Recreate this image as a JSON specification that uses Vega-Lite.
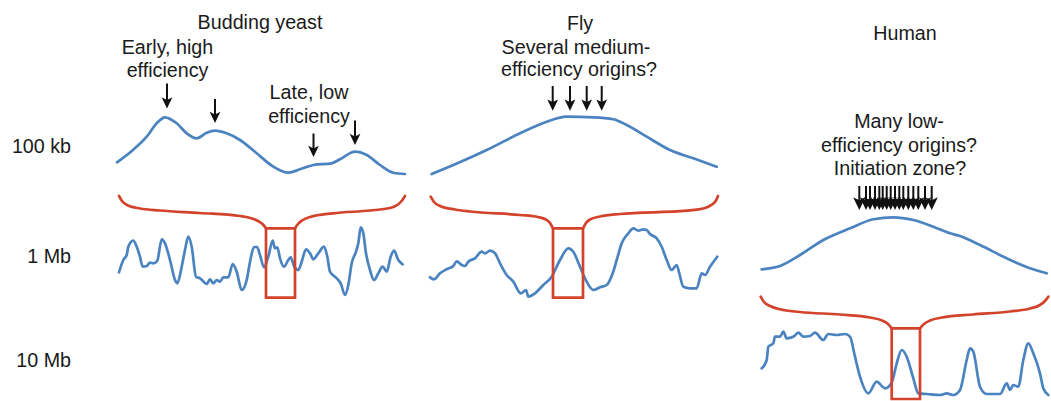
{
  "$schema": "https://vega.github.io/schema/vega-lite/v6.json",
  "width": 1051,
  "height": 401,
  "autosize": {"type": "fit", "contains": "padding"},
  "padding": 0,
  "background": "white",
  "config": {"view": {"stroke": null}, "font": "Liberation Sans"},
  "datasets": {
    "lines": [
      {"s":"Y100","kind":"profile","x":117,"y":162.3},{"s":"Y100","kind":"profile","x":133,"y":150},{"s":"Y100","kind":"profile","x":146.7,"y":136.7},{"s":"Y100","kind":"profile","x":156.7,"y":123.3},{"s":"Y100","kind":"profile","x":165,"y":117.3},{"s":"Y100","kind":"profile","x":176.7,"y":123.3},{"s":"Y100","kind":"profile","x":186.7,"y":133.3},{"s":"Y100","kind":"profile","x":196.7,"y":138.3},{"s":"Y100","kind":"profile","x":206.7,"y":132.7},{"s":"Y100","kind":"profile","x":215,"y":130.7},{"s":"Y100","kind":"profile","x":226.7,"y":133.3},{"s":"Y100","kind":"profile","x":240,"y":140},{"s":"Y100","kind":"profile","x":256.7,"y":153.3},{"s":"Y100","kind":"profile","x":273.3,"y":166.7},{"s":"Y100","kind":"profile","x":288.3,"y":172.7},{"s":"Y100","kind":"profile","x":300,"y":169.3},{"s":"Y100","kind":"profile","x":313.3,"y":165},{"s":"Y100","kind":"profile","x":331.7,"y":163.3},{"s":"Y100","kind":"profile","x":340,"y":159.3},{"s":"Y100","kind":"profile","x":355,"y":151.7},{"s":"Y100","kind":"profile","x":366.7,"y":155},{"s":"Y100","kind":"profile","x":380,"y":165},{"s":"Y100","kind":"profile","x":393.3,"y":172.7},{"s":"Y100","kind":"profile","x":405,"y":174},

      {"s":"Y1M","kind":"profile","x":119,"y":272.3},{"s":"Y1M","kind":"profile","x":123.3,"y":260},{"s":"Y1M","kind":"profile","x":126.7,"y":255},{"s":"Y1M","kind":"profile","x":128.3,"y":246.7},{"s":"Y1M","kind":"profile","x":133.3,"y":240.7},{"s":"Y1M","kind":"profile","x":136.7,"y":246.7},{"s":"Y1M","kind":"profile","x":140,"y":256.7},{"s":"Y1M","kind":"profile","x":142.7,"y":266.7},{"s":"Y1M","kind":"profile","x":146.7,"y":266},{"s":"Y1M","kind":"profile","x":150,"y":262.7},{"s":"Y1M","kind":"profile","x":153.3,"y":263.3},{"s":"Y1M","kind":"profile","x":157.3,"y":260.7},{"s":"Y1M","kind":"profile","x":161.7,"y":239.3},{"s":"Y1M","kind":"profile","x":165,"y":243.3},{"s":"Y1M","kind":"profile","x":170,"y":260},{"s":"Y1M","kind":"profile","x":175,"y":280},{"s":"Y1M","kind":"profile","x":177.3,"y":283.3},{"s":"Y1M","kind":"profile","x":181.7,"y":266.7},{"s":"Y1M","kind":"profile","x":185,"y":250},{"s":"Y1M","kind":"profile","x":188.3,"y":236.7},{"s":"Y1M","kind":"profile","x":191.7,"y":246.7},{"s":"Y1M","kind":"profile","x":196,"y":276.7},{"s":"Y1M","kind":"profile","x":200,"y":278.3},{"s":"Y1M","kind":"profile","x":206.7,"y":284},{"s":"Y1M","kind":"profile","x":210,"y":279.3},{"s":"Y1M","kind":"profile","x":213.3,"y":283.3},{"s":"Y1M","kind":"profile","x":216.7,"y":280},{"s":"Y1M","kind":"profile","x":220,"y":281.7},{"s":"Y1M","kind":"profile","x":223.3,"y":277.3},{"s":"Y1M","kind":"profile","x":228.3,"y":277.3},{"s":"Y1M","kind":"profile","x":232.7,"y":264},{"s":"Y1M","kind":"profile","x":236.7,"y":271.7},{"s":"Y1M","kind":"profile","x":241.7,"y":290},{"s":"Y1M","kind":"profile","x":246.7,"y":280},{"s":"Y1M","kind":"profile","x":250,"y":262},{"s":"Y1M","kind":"profile","x":254,"y":247},{"s":"Y1M","kind":"profile","x":257,"y":247},{"s":"Y1M","kind":"profile","x":260,"y":255},{"s":"Y1M","kind":"profile","x":264,"y":267.3},{"s":"Y1M","kind":"profile","x":268.3,"y":256.7},{"s":"Y1M","kind":"profile","x":272.7,"y":240.7},{"s":"Y1M","kind":"profile","x":275,"y":248.3},{"s":"Y1M","kind":"profile","x":277.3,"y":247.3},{"s":"Y1M","kind":"profile","x":280,"y":258.3},{"s":"Y1M","kind":"profile","x":284,"y":266.7},{"s":"Y1M","kind":"profile","x":288.3,"y":260},{"s":"Y1M","kind":"profile","x":290.7,"y":257.3},{"s":"Y1M","kind":"profile","x":294,"y":266},{"s":"Y1M","kind":"profile","x":298.3,"y":270},{"s":"Y1M","kind":"profile","x":301.7,"y":261.7},{"s":"Y1M","kind":"profile","x":306,"y":249.3},{"s":"Y1M","kind":"profile","x":310,"y":253.3},{"s":"Y1M","kind":"profile","x":313.3,"y":259.3},{"s":"Y1M","kind":"profile","x":318.3,"y":253.3},{"s":"Y1M","kind":"profile","x":324,"y":246.7},{"s":"Y1M","kind":"profile","x":327.3,"y":256.7},{"s":"Y1M","kind":"profile","x":330,"y":271.7},{"s":"Y1M","kind":"profile","x":336.7,"y":278.3},{"s":"Y1M","kind":"profile","x":340.7,"y":283.3},{"s":"Y1M","kind":"profile","x":345,"y":295},{"s":"Y1M","kind":"profile","x":348.3,"y":285},{"s":"Y1M","kind":"profile","x":351.7,"y":263.3},{"s":"Y1M","kind":"profile","x":356,"y":251.7},{"s":"Y1M","kind":"profile","x":358.3,"y":243.3},{"s":"Y1M","kind":"profile","x":360.7,"y":227.3},{"s":"Y1M","kind":"profile","x":363.3,"y":233.3},{"s":"Y1M","kind":"profile","x":366,"y":253.3},{"s":"Y1M","kind":"profile","x":370,"y":270},{"s":"Y1M","kind":"profile","x":374,"y":280},{"s":"Y1M","kind":"profile","x":378.3,"y":273.3},{"s":"Y1M","kind":"profile","x":382.7,"y":266.7},{"s":"Y1M","kind":"profile","x":386.7,"y":271.7},{"s":"Y1M","kind":"profile","x":390.7,"y":256.7},{"s":"Y1M","kind":"profile","x":394,"y":250.7},{"s":"Y1M","kind":"profile","x":398.3,"y":260},{"s":"Y1M","kind":"profile","x":402.7,"y":264.3},

      {"s":"YBL","kind":"brace","x":119,"y":196},{"s":"YBL","kind":"brace","x":122,"y":201},{"s":"YBL","kind":"brace","x":128,"y":205.5},{"s":"YBL","kind":"brace","x":140,"y":208.5},{"s":"YBL","kind":"brace","x":160,"y":210.5},{"s":"YBL","kind":"brace","x":200,"y":213},{"s":"YBL","kind":"brace","x":240,"y":216},{"s":"YBL","kind":"brace","x":252,"y":218.5},{"s":"YBL","kind":"brace","x":259,"y":221.5},{"s":"YBL","kind":"brace","x":263,"y":224.5},{"s":"YBL","kind":"brace","x":266,"y":228.3},
      {"s":"YBR","kind":"brace","x":295,"y":228.3},{"s":"YBR","kind":"brace","x":298,"y":224},{"s":"YBR","kind":"brace","x":302,"y":220.5},{"s":"YBR","kind":"brace","x":310,"y":217},{"s":"YBR","kind":"brace","x":333,"y":213.3},{"s":"YBR","kind":"brace","x":370,"y":210.5},{"s":"YBR","kind":"brace","x":390,"y":208},{"s":"YBR","kind":"brace","x":398,"y":204.5},{"s":"YBR","kind":"brace","x":402,"y":200.5},{"s":"YBR","kind":"brace","x":405,"y":196},

      {"s":"F100","kind":"profile","x":431.7,"y":174},{"s":"F100","kind":"profile","x":453.3,"y":165},{"s":"F100","kind":"profile","x":486.7,"y":150},{"s":"F100","kind":"profile","x":520,"y":133.3},{"s":"F100","kind":"profile","x":546.7,"y":121.7},{"s":"F100","kind":"profile","x":566.7,"y":116.7},{"s":"F100","kind":"profile","x":593.3,"y":117.3},{"s":"F100","kind":"profile","x":613.3,"y":119.3},{"s":"F100","kind":"profile","x":626.7,"y":125},{"s":"F100","kind":"profile","x":646.7,"y":136.7},{"s":"F100","kind":"profile","x":670,"y":150},{"s":"F100","kind":"profile","x":693.3,"y":158.3},{"s":"F100","kind":"profile","x":716.7,"y":166.7},

      {"s":"FBL","kind":"brace","x":430.7,"y":196.7},{"s":"FBL","kind":"brace","x":434,"y":202},{"s":"FBL","kind":"brace","x":440,"y":206},{"s":"FBL","kind":"brace","x":455,"y":209.5},{"s":"FBL","kind":"brace","x":470,"y":211.5},{"s":"FBL","kind":"brace","x":520,"y":215},{"s":"FBL","kind":"brace","x":538,"y":217},{"s":"FBL","kind":"brace","x":546,"y":219.5},{"s":"FBL","kind":"brace","x":550,"y":223},{"s":"FBL","kind":"brace","x":553,"y":228.3},
      {"s":"FBR","kind":"brace","x":583,"y":228.3},{"s":"FBR","kind":"brace","x":586,"y":223},{"s":"FBR","kind":"brace","x":590,"y":219.5},{"s":"FBR","kind":"brace","x":600,"y":216.5},{"s":"FBR","kind":"brace","x":620,"y":214},{"s":"FBR","kind":"brace","x":686.7,"y":210.7},{"s":"FBR","kind":"brace","x":705,"y":208},{"s":"FBR","kind":"brace","x":712,"y":204.5},{"s":"FBR","kind":"brace","x":716,"y":200.5},{"s":"FBR","kind":"brace","x":718,"y":196},

      {"s":"F1M","kind":"profile","x":430,"y":277.3},{"s":"F1M","kind":"profile","x":434,"y":279.3},{"s":"F1M","kind":"profile","x":440,"y":273.3},{"s":"F1M","kind":"profile","x":446.7,"y":269.3},{"s":"F1M","kind":"profile","x":453.3,"y":266},{"s":"F1M","kind":"profile","x":456.7,"y":261.3},{"s":"F1M","kind":"profile","x":461.7,"y":265},{"s":"F1M","kind":"profile","x":465,"y":266},{"s":"F1M","kind":"profile","x":468.3,"y":261.7},{"s":"F1M","kind":"profile","x":475,"y":258.3},{"s":"F1M","kind":"profile","x":481.7,"y":251.7},{"s":"F1M","kind":"profile","x":485,"y":253.3},{"s":"F1M","kind":"profile","x":490,"y":250.7},{"s":"F1M","kind":"profile","x":495,"y":253.3},{"s":"F1M","kind":"profile","x":500,"y":263.3},{"s":"F1M","kind":"profile","x":506.7,"y":275},{"s":"F1M","kind":"profile","x":513.3,"y":281.7},{"s":"F1M","kind":"profile","x":520.7,"y":293.3},{"s":"F1M","kind":"profile","x":526,"y":290},{"s":"F1M","kind":"profile","x":528.3,"y":296.7},{"s":"F1M","kind":"profile","x":535,"y":293.3},{"s":"F1M","kind":"profile","x":543.3,"y":285},{"s":"F1M","kind":"profile","x":551.7,"y":276.7},{"s":"F1M","kind":"profile","x":560,"y":260},{"s":"F1M","kind":"profile","x":568.3,"y":248.3},{"s":"F1M","kind":"profile","x":573.3,"y":251.7},{"s":"F1M","kind":"profile","x":580,"y":266.7},{"s":"F1M","kind":"profile","x":586.7,"y":281.7},{"s":"F1M","kind":"profile","x":593.3,"y":290},{"s":"F1M","kind":"profile","x":600,"y":287.3},{"s":"F1M","kind":"profile","x":606.7,"y":285},{"s":"F1M","kind":"profile","x":612.7,"y":273.3},{"s":"F1M","kind":"profile","x":616.7,"y":260},{"s":"F1M","kind":"profile","x":621.7,"y":243.3},{"s":"F1M","kind":"profile","x":628.3,"y":233.3},{"s":"F1M","kind":"profile","x":633.3,"y":228.3},{"s":"F1M","kind":"profile","x":638.3,"y":230.7},{"s":"F1M","kind":"profile","x":643.3,"y":229.3},{"s":"F1M","kind":"profile","x":646.7,"y":230},{"s":"F1M","kind":"profile","x":650,"y":234},{"s":"F1M","kind":"profile","x":656.7,"y":238.3},{"s":"F1M","kind":"profile","x":661.7,"y":246.7},{"s":"F1M","kind":"profile","x":666.7,"y":260},{"s":"F1M","kind":"profile","x":671.7,"y":270},{"s":"F1M","kind":"profile","x":676.7,"y":265},{"s":"F1M","kind":"profile","x":679.3,"y":273.3},{"s":"F1M","kind":"profile","x":683.3,"y":286.7},{"s":"F1M","kind":"profile","x":690,"y":288.3},{"s":"F1M","kind":"profile","x":696.7,"y":288.3},{"s":"F1M","kind":"profile","x":701.7,"y":273.3},{"s":"F1M","kind":"profile","x":705,"y":275},{"s":"F1M","kind":"profile","x":710,"y":266.7},{"s":"F1M","kind":"profile","x":717.3,"y":256.7},

      {"s":"H100","kind":"profile","x":761.7,"y":269.3},{"s":"H100","kind":"profile","x":780,"y":266},{"s":"H100","kind":"profile","x":800,"y":255},{"s":"H100","kind":"profile","x":823.3,"y":240},{"s":"H100","kind":"profile","x":850,"y":228.3},{"s":"H100","kind":"profile","x":873.3,"y":219.3},{"s":"H100","kind":"profile","x":893.3,"y":217.3},{"s":"H100","kind":"profile","x":913.3,"y":220},{"s":"H100","kind":"profile","x":933.3,"y":226.7},{"s":"H100","kind":"profile","x":950,"y":233.3},{"s":"H100","kind":"profile","x":960,"y":236},{"s":"H100","kind":"profile","x":980,"y":245},{"s":"H100","kind":"profile","x":1006.7,"y":258.3},{"s":"H100","kind":"profile","x":1030,"y":268.3},{"s":"H100","kind":"profile","x":1046.7,"y":273.3},

      {"s":"HBL","kind":"brace","x":760.7,"y":296.7},{"s":"HBL","kind":"brace","x":764,"y":302},{"s":"HBL","kind":"brace","x":770,"y":306},{"s":"HBL","kind":"brace","x":780,"y":309.3},{"s":"HBL","kind":"brace","x":800,"y":312},{"s":"HBL","kind":"brace","x":840,"y":314.5},{"s":"HBL","kind":"brace","x":870,"y":317.5},{"s":"HBL","kind":"brace","x":882,"y":320.5},{"s":"HBL","kind":"brace","x":888,"y":324},{"s":"HBL","kind":"brace","x":891.7,"y":328.3},
      {"s":"HBR","kind":"brace","x":920,"y":328.3},{"s":"HBR","kind":"brace","x":924,"y":324},{"s":"HBR","kind":"brace","x":930,"y":320.5},{"s":"HBR","kind":"brace","x":942,"y":317.5},{"s":"HBR","kind":"brace","x":973,"y":314.5},{"s":"HBR","kind":"brace","x":1010,"y":311.5},{"s":"HBR","kind":"brace","x":1030,"y":308.5},{"s":"HBR","kind":"brace","x":1040,"y":305},{"s":"HBR","kind":"brace","x":1045,"y":301},{"s":"HBR","kind":"brace","x":1048.3,"y":296.7},

      {"s":"H10M","kind":"profile","x":761.7,"y":368.3},{"s":"H10M","kind":"profile","x":766.7,"y":360},{"s":"H10M","kind":"profile","x":768.3,"y":346.7},{"s":"H10M","kind":"profile","x":773.3,"y":343.3},{"s":"H10M","kind":"profile","x":775,"y":336.7},{"s":"H10M","kind":"profile","x":780,"y":336.7},{"s":"H10M","kind":"profile","x":783.3,"y":331.7},{"s":"H10M","kind":"profile","x":786.7,"y":338.3},{"s":"H10M","kind":"profile","x":793.3,"y":336.7},{"s":"H10M","kind":"profile","x":798.3,"y":332.7},{"s":"H10M","kind":"profile","x":803.3,"y":336.7},{"s":"H10M","kind":"profile","x":810,"y":336},{"s":"H10M","kind":"profile","x":815,"y":332.7},{"s":"H10M","kind":"profile","x":823.3,"y":340},{"s":"H10M","kind":"profile","x":828.3,"y":334},{"s":"H10M","kind":"profile","x":836.7,"y":335},{"s":"H10M","kind":"profile","x":845,"y":334},{"s":"H10M","kind":"profile","x":850,"y":336.7},{"s":"H10M","kind":"profile","x":855,"y":356.7},{"s":"H10M","kind":"profile","x":860,"y":376.7},{"s":"H10M","kind":"profile","x":868.3,"y":393.3},{"s":"H10M","kind":"profile","x":876.7,"y":381.7},{"s":"H10M","kind":"profile","x":885,"y":388.3},{"s":"H10M","kind":"profile","x":891.7,"y":382.7},{"s":"H10M","kind":"profile","x":896.7,"y":363.3},{"s":"H10M","kind":"profile","x":901.7,"y":350},{"s":"H10M","kind":"profile","x":906.7,"y":356.7},{"s":"H10M","kind":"profile","x":913.3,"y":378.3},{"s":"H10M","kind":"profile","x":918.3,"y":393.3},{"s":"H10M","kind":"profile","x":926.7,"y":394},{"s":"H10M","kind":"profile","x":940,"y":395},{"s":"H10M","kind":"profile","x":946.7,"y":393.3},{"s":"H10M","kind":"profile","x":953.3,"y":395},{"s":"H10M","kind":"profile","x":960,"y":390},{"s":"H10M","kind":"profile","x":966.7,"y":360},{"s":"H10M","kind":"profile","x":970,"y":348.3},{"s":"H10M","kind":"profile","x":973.3,"y":351.7},{"s":"H10M","kind":"profile","x":980,"y":386.7},{"s":"H10M","kind":"profile","x":986.7,"y":394},{"s":"H10M","kind":"profile","x":1000,"y":394},{"s":"H10M","kind":"profile","x":1006.7,"y":383.3},{"s":"H10M","kind":"profile","x":1010,"y":390},{"s":"H10M","kind":"profile","x":1013.3,"y":385},{"s":"H10M","kind":"profile","x":1018.3,"y":386.7},{"s":"H10M","kind":"profile","x":1023.3,"y":360},{"s":"H10M","kind":"profile","x":1028.3,"y":343.3},{"s":"H10M","kind":"profile","x":1033.3,"y":353.3},{"s":"H10M","kind":"profile","x":1040,"y":373.3},{"s":"H10M","kind":"profile","x":1043.3,"y":388.3},{"s":"H10M","kind":"profile","x":1048.3,"y":395}
    ],
    "boxes": [
      {"sp":"Budding yeast","x":266,"x2":295,"y":228.3,"y2":297.7},
      {"sp":"Fly","x":553,"x2":583,"y":228.3,"y2":297.7},
      {"sp":"Human","x":891.7,"x2":920,"y":328.3,"y2":399}
    ],
    "arrows": [
      {"sp":"Budding yeast","x":167,"top":83.5,"tip":108.5},
      {"sp":"Budding yeast","x":215,"top":99,"tip":123},
      {"sp":"Budding yeast","x":313.5,"top":133.5,"tip":157},
      {"sp":"Budding yeast","x":355,"top":120.5,"tip":145},
      {"sp":"Fly","x":552.7,"top":86,"tip":110.7},
      {"sp":"Fly","x":570,"top":86,"tip":110.7},
      {"sp":"Fly","x":586.7,"top":86,"tip":110.7},
      {"sp":"Fly","x":601.7,"top":86,"tip":110.7},
      {"sp":"Human","x":859.3,"top":186,"tip":210},
      {"sp":"Human","x":866,"top":186,"tip":210},
      {"sp":"Human","x":870,"top":186,"tip":210},
      {"sp":"Human","x":875,"top":186,"tip":210},
      {"sp":"Human","x":879.3,"top":186,"tip":210},
      {"sp":"Human","x":882.7,"top":186,"tip":210},
      {"sp":"Human","x":886.7,"top":186,"tip":210},
      {"sp":"Human","x":890.7,"top":186,"tip":210},
      {"sp":"Human","x":895,"top":186,"tip":210},
      {"sp":"Human","x":899.3,"top":186,"tip":210},
      {"sp":"Human","x":903.3,"top":186,"tip":210},
      {"sp":"Human","x":908.3,"top":186,"tip":210},
      {"sp":"Human","x":913.3,"top":186,"tip":210},
      {"sp":"Human","x":918.3,"top":186,"tip":210},
      {"sp":"Human","x":925,"top":186,"tip":210},
      {"sp":"Human","x":931.7,"top":186,"tip":210}
    ],
    "texts": [
      {"role":"title","t":"Budding yeast","x":260,"y":28.5},
      {"role":"title","t":"Early, high","x":167.5,"y":53.5},
      {"role":"title","t":"efficiency","x":167.5,"y":77.3},
      {"role":"title","t":"Late, low","x":309,"y":99},
      {"role":"title","t":"efficiency","x":309,"y":122.7},
      {"role":"title","t":"Fly","x":580,"y":30},
      {"role":"title","t":"Several medium-","x":576,"y":53.5},
      {"role":"title","t":"efficiency origins?","x":579,"y":75.5},
      {"role":"title","t":"Human","x":905,"y":40},
      {"role":"title","t":"Many low-","x":899,"y":127.7},
      {"role":"title","t":"efficiency origins?","x":899,"y":151.7},
      {"role":"title","t":"Initiation zone?","x":900,"y":175},
      {"role":"scale","t":"100 kb","x":71,"y":152.7},
      {"role":"scale","t":"1 Mb","x":71,"y":263.3},
      {"role":"scale","t":"10 Mb","x":71,"y":366.7}
    ]
  },
  "layer": [
    {
      "data": {"name": "lines"},
      "mark": {"type": "line", "interpolate": "monotone", "strokeWidth": 2.7, "strokeCap": "round", "strokeJoin": "round"},
      "encoding": {
        "x": {"field": "x", "type": "quantitative", "scale": {"domain": [0, 1051], "nice": false, "zero": false}, "axis": null},
        "y": {"field": "y", "type": "quantitative", "scale": {"domain": [0, 401], "nice": false, "zero": false, "reverse": true}, "axis": null},
        "color": {"field": "kind", "type": "nominal", "scale": {"domain": ["profile", "brace"], "range": ["#4a83c0", "#d3432c"]}, "legend": null},
        "detail": {"field": "s"}
      }
    },
    {
      "data": {"name": "boxes"},
      "mark": {"type": "rect", "fill": "white", "fillOpacity": 0, "stroke": "#d3432c", "strokeWidth": 2.7},
      "encoding": {
        "x": {"field": "x", "type": "quantitative", "scale": {"domain": [0, 1051], "nice": false, "zero": false}, "axis": null},
        "x2": {"field": "x2"},
        "y": {"field": "y", "type": "quantitative", "scale": {"domain": [0, 401], "nice": false, "zero": false, "reverse": true}, "axis": null},
        "y2": {"field": "y2"}
      }
    },
    {
      "data": {"name": "arrows"},
      "mark": {"type": "rule", "color": "#111111", "strokeWidth": 2, "y2Offset": -5},
      "encoding": {
        "x": {"field": "x", "type": "quantitative", "scale": {"domain": [0, 1051], "nice": false, "zero": false}, "axis": null},
        "y": {"field": "top", "type": "quantitative", "scale": {"domain": [0, 401], "nice": false, "zero": false, "reverse": true}, "axis": null},
        "y2": {"field": "tip"}
      }
    },
    {
      "data": {"name": "arrows"},
      "transform": [{"filter": {"field": "sp", "oneOf": ["Budding yeast", "Fly"]}}],
      "mark": {"type": "point", "filled": true, "color": "#111111", "opacity": 1, "strokeWidth": 0, "size": 115, "shape": "M-1,-2.1L0,-1.6L1,-2.1L0,0Z"},
      "encoding": {
        "x": {"field": "x", "type": "quantitative", "scale": {"domain": [0, 1051], "nice": false, "zero": false}, "axis": null},
        "y": {"field": "tip", "type": "quantitative", "scale": {"domain": [0, 401], "nice": false, "zero": false, "reverse": true}, "axis": null}
      }
    },
    {
      "data": {"name": "arrows"},
      "transform": [{"filter": {"field": "sp", "equal": "Human"}}],
      "mark": {"type": "point", "filled": true, "color": "#111111", "opacity": 1, "strokeWidth": 0, "size": 150, "shape": "M-1,-2.1L0,-1.6L1,-2.1L0,0Z"},
      "encoding": {
        "x": {"field": "x", "type": "quantitative", "scale": {"domain": [0, 1051], "nice": false, "zero": false}, "axis": null},
        "y": {"field": "tip", "type": "quantitative", "scale": {"domain": [0, 401], "nice": false, "zero": false, "reverse": true}, "axis": null}
      }
    },
    {
      "data": {"name": "texts"},
      "transform": [{"filter": {"field": "role", "equal": "title"}}],
      "mark": {"type": "text", "fontSize": 19.7, "color": "#1a1a1a", "align": "center", "baseline": "alphabetic"},
      "encoding": {
        "x": {"field": "x", "type": "quantitative", "scale": {"domain": [0, 1051], "nice": false, "zero": false}, "axis": null},
        "y": {"field": "y", "type": "quantitative", "scale": {"domain": [0, 401], "nice": false, "zero": false, "reverse": true}, "axis": null},
        "text": {"field": "t"}
      }
    },
    {
      "data": {"name": "texts"},
      "transform": [{"filter": {"field": "role", "equal": "scale"}}],
      "mark": {"type": "text", "fontSize": 19.7, "color": "#1a1a1a", "align": "right", "baseline": "alphabetic"},
      "encoding": {
        "x": {"field": "x", "type": "quantitative", "scale": {"domain": [0, 1051], "nice": false, "zero": false}, "axis": null},
        "y": {"field": "y", "type": "quantitative", "scale": {"domain": [0, 401], "nice": false, "zero": false, "reverse": true}, "axis": null},
        "text": {"field": "t"}
      }
    }
  ]
}
